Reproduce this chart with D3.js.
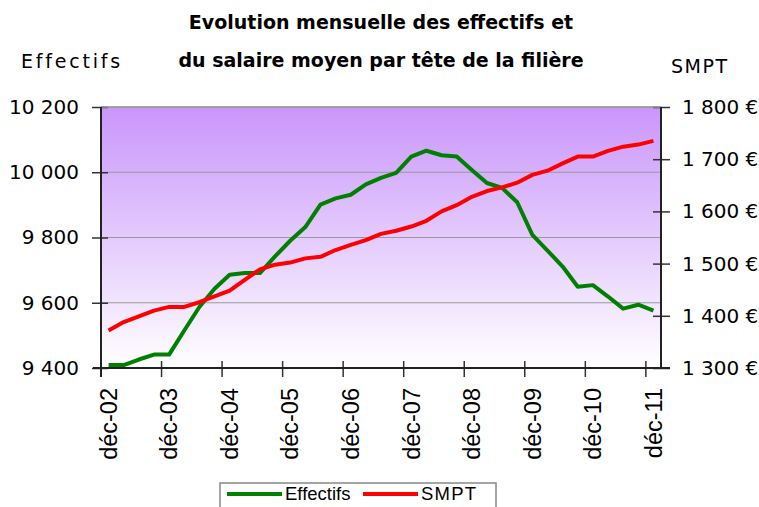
<!DOCTYPE html>
<html>
<head>
<meta charset="utf-8">
<script src="https://cdn.jsdelivr.net/npm/d3@7"></script>
<style>
  body { margin: 0; background: #fff; }
  svg { display: block; }
</style>
</head>
<body>
<svg id="chart"></svg>
<script>
// Quarterly categories, déc-02 .. déc-11
const categories = [
  "déc-02", "mars-03", "juin-03", "sept-03",
  "déc-03", "mars-04", "juin-04", "sept-04",
  "déc-04", "mars-05", "juin-05", "sept-05",
  "déc-05", "mars-06", "juin-06", "sept-06",
  "déc-06", "mars-07", "juin-07", "sept-07",
  "déc-07", "mars-08", "juin-08", "sept-08",
  "déc-08", "mars-09", "juin-09", "sept-09",
  "déc-09", "mars-10", "juin-10", "sept-10",
  "déc-10", "mars-11", "juin-11", "sept-11",
  "déc-11"
];
const tickLabels = ["déc-02", "déc-03", "déc-04", "déc-05", "déc-06",
  "déc-07", "déc-08", "déc-09", "déc-10", "déc-11"];

const effectifs = [9409, 9409, 9426, 9441, 9441, 9515, 9587, 9643, 9686, 9691,
  9691, 9742, 9790, 9832, 9901, 9920, 9931, 9963, 9983, 9998,
  10048, 10066, 10052, 10048, 10007, 9967, 9952, 9908, 9808, 9760,
  9711, 9649, 9654, 9619, 9582, 9594, 9576];
const smpt = [1372, 1388, 1399, 1410, 1417, 1417, 1426, 1437, 1448, 1469,
  1489, 1498, 1502, 1510, 1513, 1526, 1536, 1545, 1557, 1563,
  1571, 1582, 1600, 1612, 1628, 1639, 1646, 1655, 1670, 1678,
  1692, 1705, 1705, 1716, 1724, 1728, 1735];

const leftTicks = [9400, 9600, 9800, 10000, 10200];
const rightTicks = [1300, 1400, 1500, 1600, 1700, 1800];

const W = 759, H = 507;
const plot = {left: 101, right: 661, top: 107, bottom: 368};

const svg = d3.select("#chart")
  .attr("width", W)
  .attr("height", H);

// Scales
const x = d3.scaleBand()
  .domain(categories)
  .range([plot.left, plot.right])
  .padding(0);
const yL = d3.scaleLinear().domain([9400, 10200]).range([plot.bottom, plot.top]);
const yR = d3.scaleLinear().domain([1300, 1800]).range([plot.bottom, plot.top]);

// Plot background gradient
const grad = svg.append("defs").append("linearGradient")
  .attr("id", "bg")
  .attr("x1", 0).attr("y1", 0).attr("x2", 0).attr("y2", 1);
grad.append("stop").attr("offset", "0%").attr("stop-color", "#c996fb");
grad.append("stop").attr("offset", "100%").attr("stop-color", "#ffffff");

svg.append("rect")
  .attr("x", plot.left)
  .attr("y", plot.top)
  .attr("width", plot.right - plot.left)
  .attr("height", plot.bottom - plot.top)
  .attr("fill", "url(#bg)");

// Gridlines (left axis)
svg.append("g")
  .selectAll("line")
  .data(leftTicks.slice(1))
  .join("line")
  .attr("x1", plot.left)
  .attr("x2", plot.right)
  .attr("y1", d => yL(d))
  .attr("y2", d => yL(d))
  .attr("stroke", "#999")
  .attr("stroke-width", 1.2);

// Left axis
const axL = svg.append("g")
  .attr("transform", `translate(${plot.left},0)`)
  .call(d3.axisLeft(yL)
    .tickValues(leftTicks)
    .tickSize(9)
    .tickPadding(13)
    .tickFormat(d => d3.format(",")(d).replace(",", " ")));
axL.select(".domain").remove();
axL.selectAll("line").attr("x1", 7).attr("stroke", "#333").attr("stroke-width", 1.5);
axL.selectAll("text")
  .style("font-family", "DejaVu Sans, Verdana, sans-serif")
  .style("font-size", "20px")
  .attr("fill", "#000");

// Right axis
const axR = svg.append("g")
  .attr("transform", `translate(${plot.right},0)`)
  .call(d3.axisRight(yR)
    .tickValues(rightTicks)
    .tickSize(9)
    .tickPadding(12)
    .tickFormat(d => d3.format(",")(d).replace(",", " ") + " €"));
axR.select(".domain").remove();
axR.selectAll("line").attr("x1", -8).attr("stroke", "#333").attr("stroke-width", 1.5);
axR.selectAll("text")
  .style("font-family", "DejaVu Sans, Verdana, sans-serif")
  .style("font-size", "20px")
  .attr("fill", "#000");

// Bottom axis: ticks on band edges every 4 categories, labels on category centres
const axB = svg.append("g")
  .attr("transform", `translate(0,${plot.bottom})`);
axB.selectAll("line")
  .data(tickLabels)
  .join("line")
  .attr("x1", d => x(d))
  .attr("x2", d => x(d))
  .attr("y1", -7)
  .attr("y2", 9)
  .attr("stroke", "#333")
  .attr("stroke-width", 1.5);
axB.selectAll("text")
  .data(tickLabels)
  .join("text")
  .attr("transform", d => `translate(${x(d) + x.bandwidth() / 2},20)rotate(-90)`)
  .attr("dy", "0.35em")
  .attr("text-anchor", "end")
  .style("font-family", "Liberation Sans, Arial, sans-serif")
  .style("font-size", "23.5px")
  .text(d => d);

// Plot frame
svg.append("line")
  .attr("x1", plot.left).attr("x2", plot.right)
  .attr("y1", plot.top).attr("y2", plot.top)
  .attr("stroke", "#999").attr("stroke-width", 1.5);
svg.append("line")
  .attr("x1", plot.left).attr("x2", plot.left)
  .attr("y1", plot.top).attr("y2", plot.bottom + 9)
  .attr("stroke", "#222").attr("stroke-width", 2);
svg.append("line")
  .attr("x1", plot.right).attr("x2", plot.right)
  .attr("y1", plot.top).attr("y2", plot.bottom)
  .attr("stroke", "#222").attr("stroke-width", 2);
svg.append("line")
  .attr("x1", plot.left - 8).attr("x2", plot.right + 9)
  .attr("y1", plot.bottom).attr("y2", plot.bottom)
  .attr("stroke", "#222").attr("stroke-width", 2);

// Lines
const cx = d => x(d) + x.bandwidth() / 2;

svg.append("path")
  .datum(categories)
  .attr("fill", "none")
  .attr("stroke", "#008000")
  .attr("stroke-width", 4)
  .attr("stroke-linejoin", "round")
  .attr("d", d3.line()
    .x(d => cx(d))
    .y((d, i) => yL(effectifs[i])));

svg.append("path")
  .datum(categories)
  .attr("fill", "none")
  .attr("stroke", "#ff0000")
  .attr("stroke-width", 4)
  .attr("stroke-linejoin", "round")
  .attr("d", d3.line()
    .x(d => cx(d))
    .y((d, i) => yR(smpt[i])));

// Title
const titleFont = "DejaVu Sans, Verdana, sans-serif";
svg.append("text")
  .attr("x", 381)
  .attr("y", 29)
  .attr("text-anchor", "middle")
  .style("font-family", titleFont)
  .style("font-weight", "bold")
  .style("font-size", "19px")
  .text("Evolution mensuelle des effectifs et");
svg.append("text")
  .attr("x", 381)
  .attr("y", 67)
  .attr("text-anchor", "middle")
  .style("font-family", titleFont)
  .style("font-weight", "bold")
  .style("font-size", "19px")
  .text("du salaire moyen par tête de la filière");

// Axis titles
svg.append("text")
  .attr("x", 21)
  .attr("y", 68)
  .style("font-family", titleFont)
  .style("font-size", "19px")
  .style("letter-spacing", "2.8px")
  .text("Effectifs");
svg.append("text")
  .attr("x", 671)
  .attr("y", 73)
  .style("font-family", titleFont)
  .style("font-size", "19px")
  .style("letter-spacing", "1.5px")
  .text("SMPT");

// Legend
const legend = svg.append("g");
legend.append("rect")
  .attr("x", 220)
  .attr("y", 483)
  .attr("width", 276)
  .attr("height", 40)
  .attr("fill", "#fff")
  .attr("stroke", "#888")
  .attr("stroke-width", 1.5);

const legendItems = [
  {name: "Effectifs", color: "#008000", x: 227, spacing: 0},
  {name: "SMPT", color: "#ff0000", x: 363, spacing: 1.2}
];
legend.selectAll("line.key")
  .data(legendItems)
  .join("line")
  .attr("class", "key")
  .attr("x1", d => d.x)
  .attr("x2", d => d.x + 55)
  .attr("y1", 494)
  .attr("y2", 494)
  .attr("stroke", d => d.color)
  .attr("stroke-width", 4);
legend.selectAll("text")
  .data(legendItems)
  .join("text")
  .attr("x", d => d.x + 58)
  .attr("y", 500)
  .style("font-family", "Liberation Sans, Arial, sans-serif")
  .style("font-size", "18.5px")
  .style("letter-spacing", d => d.spacing + "px")
  .text(d => d.name);
</script>
</body>
</html>
